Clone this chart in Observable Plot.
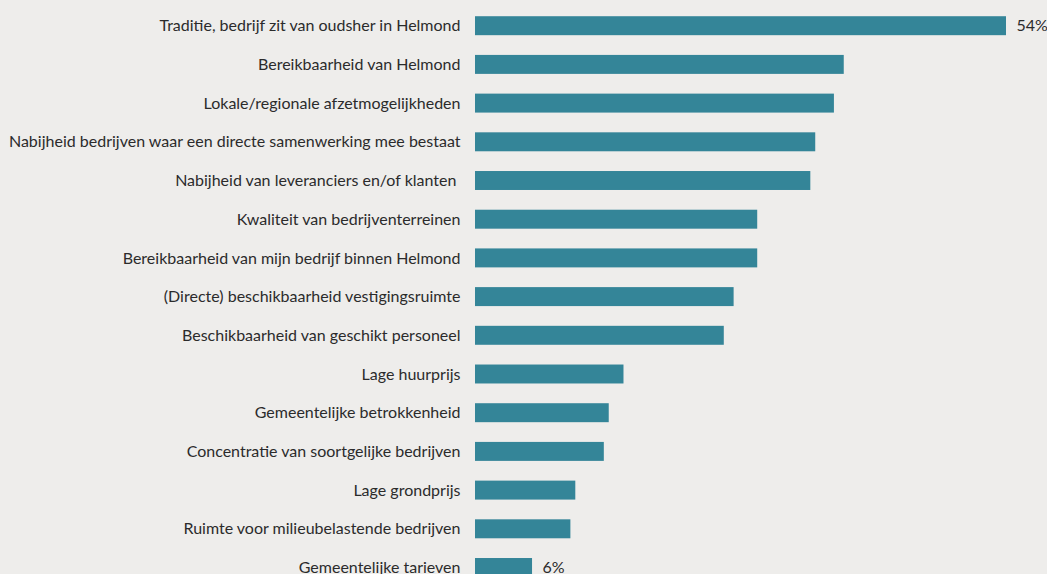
<!DOCTYPE html>
<html>
<head>
<meta charset="utf-8">
<script src="https://cdn.jsdelivr.net/npm/d3@7"></script>
<script src="https://cdn.jsdelivr.net/npm/@observablehq/plot@0.6"></script>
<style>
  html, body { margin: 0; padding: 0; background: #eeedeb; overflow: hidden; }
  svg text { white-space: pre; }
</style>
</head>
<body>
<div id="chart"></div>
<script>
const categories = [
  "Traditie, bedrijf zit van oudsher in Helmond",
  "Bereikbaarheid van Helmond",
  "Lokale/regionale afzetmogelijkheden",
  "Nabijheid bedrijven waar een directe samenwerking mee bestaat",
  "Nabijheid van leveranciers en/of klanten ",
  "Kwaliteit van bedrijventerreinen",
  "Bereikbaarheid van mijn bedrijf binnen Helmond",
  "(Directe) beschikbaarheid vestigingsruimte",
  "Beschikbaarheid van geschikt personeel",
  "Lage huurprijs",
  "Gemeentelijke betrokkenheid",
  "Concentratie van soortgelijke bedrijven",
  "Lage grondprijs",
  "Ruimte voor milieubelastende bedrijven",
  "Gemeentelijke tarieven"
];
const values = [54, 37.5, 36.5, 34.6, 34.1, 28.7, 28.7, 26.3, 25.3, 15.1, 13.6, 13.1, 10.2, 9.7, 5.8];
const valueLabels = ["54%", "", "", "", "", "", "", "", "", "", "", "", "", "", "6%"];

const data = categories.map((c, i) => ({category: c, value: values[i], label: valueLabels[i]}));

const chart = Plot.plot({
  width: 1047,
  height: 600,
  marginLeft: 475,
  marginRight: 41,
  marginTop: 6.35,
  marginBottom: 13.15,
  style: {background: "#eeedeb", fontFamily: "Lato", fontSize: "16px", color: "#2b2b2b"},
  x: {domain: [0, 54], axis: null},
  y: {domain: categories, paddingInner: 0.51, paddingOuter: 0.255, round: false, label: null},
  marks: [
    Plot.barX(data, {x: "value", y: "category", fill: "#348598"}),
    Plot.text(data.filter(d => d.label), {x: "value", y: "category", text: "label", dx: 10, textAnchor: "start", fill: "#2b2b2b", fontSize: 16}),
    Plot.axisY({tickSize: 0, tickPadding: 15, fontSize: 16, label: null, fill: "#2b2b2b"})
  ]
});
document.getElementById("chart").appendChild(chart);
</script>
</body>
</html>
